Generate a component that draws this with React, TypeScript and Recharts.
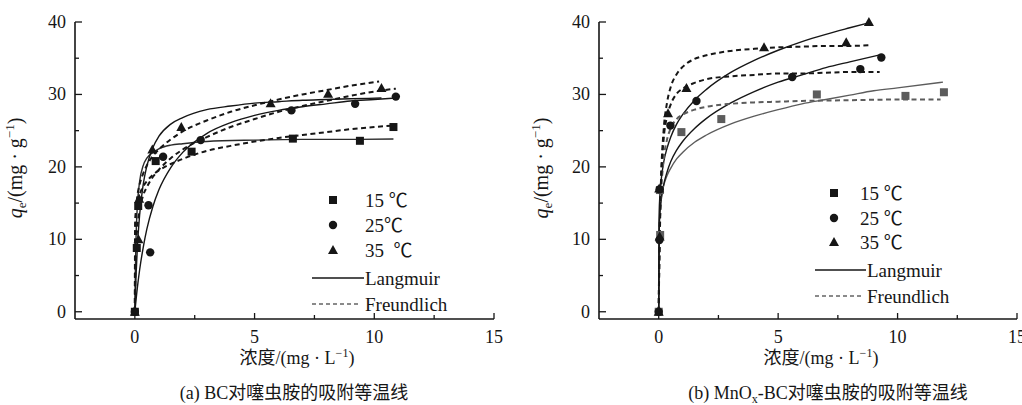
import React from "react";
import { ComposedChart, Line, Scatter, XAxis, YAxis } from "recharts";

// Adsorption isotherms of clothianidin on BC (a) and MnOx-BC (b).
// Points are measured qe vs. concentration, curves are the Langmuir /
// Freundlich fits, values read off the figure.

const FONT = '"Liberation Serif", "Times New Roman", "Noto Sans CJK SC", serif';
const INK = "#161616";
const GREY = "#5c5c5c";

type Pair = [number, number];

// ── (a) BC ────────────────────────────────────────────────────────────────
const bc15: Pair[] = [[0, 0], [0.08, 8.8], [0.14, 14.6], [0.87, 20.8], [2.37, 22.1], [6.6, 23.9], [9.4, 23.6], [10.8, 25.5]];
const bc25: Pair[] = [[0, 0], [0.64, 8.2], [0.57, 14.7], [1.18, 21.4], [2.75, 23.7], [6.54, 27.8], [9.2, 28.7], [10.9, 29.7]];
const bc35: Pair[] = [[0, 0], [0.15, 10.0], [0.18, 15.6], [0.73, 22.4], [1.94, 25.5], [5.67, 28.8], [8.07, 30.1], [10.3, 30.9]];

const bcLang15: Pair[] = [[0, 0], [0.02, 5.5], [0.05, 10.3], [0.1, 14.4], [0.2, 18.0], [0.35, 20.2], [0.5, 21.2], [0.75, 22.0], [1, 22.5], [1.5, 23.0], [2, 23.2], [3, 23.5], [5, 23.7], [7, 23.8], [9, 23.8], [10.8, 23.85]];
const bcLang25: Pair[] = [[0, 0], [0.1, 3.2], [0.2, 5.8], [0.35, 8.9], [0.5, 11.4], [0.75, 14.5], [1, 16.8], [1.5, 19.9], [2, 22.0], [3, 24.6], [4, 26.1], [5, 27.1], [6, 27.8], [7, 28.3], [8, 28.7], [9, 29.1], [10, 29.3], [10.9, 29.5]];
const bcLang35: Pair[] = [[0, 0], [0.05, 5.0], [0.1, 8.6], [0.2, 13.4], [0.35, 17.6], [0.5, 20.1], [0.75, 22.65], [1, 24.2], [1.5, 25.9], [2, 26.8], [3, 27.9], [4, 28.4], [5, 28.8], [6, 29.0], [7, 29.2], [8, 29.3], [9, 29.4], [10.3, 29.5]];
const bcFreu15: Pair[] = [[0, 0], [0.01, 11.4], [0.05, 13.8], [0.1, 14.9], [0.2, 16.2], [0.35, 17.3], [0.5, 18.0], [0.75, 18.9], [1, 19.5], [1.5, 20.4], [2, 21.1], [3, 22.2], [4, 22.9], [5, 23.5], [6, 24.0], [7, 24.4], [8, 24.8], [9, 25.2], [10, 25.5], [10.8, 25.7]];
const bcFreu25: Pair[] = [[0, 0], [0.05, 9.0], [0.1, 11.5], [0.2, 14.0], [0.35, 16.1], [0.5, 17.2], [0.75, 18.6], [1, 19.6], [1.5, 21.2], [2, 22.4], [3, 24.1], [4, 25.5], [5, 26.6], [6, 27.6], [7, 28.4], [8, 29.1], [9, 29.8], [10, 30.4], [10.9, 30.8]];
const bcFreu35: Pair[] = [[0, 0], [0.01, 11.2], [0.05, 14.3], [0.1, 15.9], [0.2, 17.6], [0.35, 19.1], [0.5, 20.2], [0.75, 21.5], [1, 22.4], [1.5, 23.8], [2, 24.9], [3, 26.4], [4, 27.6], [5, 28.5], [6, 29.3], [7, 30.0], [8, 30.6], [9, 31.2], [10.2, 31.8]];

// ── (b) MnOx-BC ───────────────────────────────────────────────────────────
const mn15: Pair[] = [[0, 0], [0.06, 10.6], [0.05, 16.8], [0.95, 24.8], [2.62, 26.6], [6.62, 30.0], [10.33, 29.8], [11.94, 30.3]];
const mn25: Pair[] = [[0, 0], [0.03, 9.9], [0.04, 16.9], [0.49, 25.7], [1.58, 29.1], [5.59, 32.4], [8.44, 33.5], [9.32, 35.1]];
const mn35: Pair[] = [[0, 0], [0.04, 10.4], [0.02, 17.0], [0.39, 27.4], [1.16, 30.9], [4.41, 36.5], [7.85, 37.2], [8.8, 40.0]];

const mnLang15: Pair[] = [[0, 0], [0.02, 12.3], [0.05, 14.1], [0.1, 15.6], [0.2, 17.3], [0.35, 18.8], [0.5, 19.8], [0.75, 21.1], [1, 22], [1.5, 23.4], [2, 24.4], [3, 25.9], [4, 27.0], [5, 27.9], [6, 28.7], [7, 29.3], [8, 29.9], [9, 30.5], [10, 30.9], [11.9, 31.7]];
const mnLang25: Pair[] = [[0, 0], [0.02, 11.4], [0.05, 13.5], [0.1, 15.3], [0.2, 17.4], [0.35, 19.3], [0.5, 20.7], [0.75, 22.3], [1, 23.5], [1.5, 25.3], [2, 26.7], [3, 28.8], [4, 30.4], [5, 31.7], [6, 32.7], [7, 33.7], [8, 34.5], [9.3, 35.5]];
const mnLang35: Pair[] = [[0, 0], [0.02, 13.7], [0.05, 16.1], [0.1, 18.1], [0.2, 20.5], [0.35, 22.6], [0.5, 24.1], [0.75, 25.9], [1, 27.2], [1.5, 29.2], [2, 30.7], [3, 33.0], [4, 34.7], [5, 36.1], [6, 37.3], [7, 38.3], [8, 39.2], [8.8, 39.9]];
const mnFreu15: Pair[] = [[0, 0], [0.02, 5.7], [0.05, 11.1], [0.1, 16.1], [0.2, 20.8], [0.35, 23.8], [0.5, 25.3], [0.75, 26.6], [1, 27.2], [1.5, 27.9], [2, 28.3], [3, 28.7], [4, 28.9], [5, 29.0], [6, 29.1], [8, 29.2], [10, 29.3], [11.8, 29.3]];
const mnFreu25: Pair[] = [[0, 0], [0.02, 6.5], [0.05, 12.5], [0.1, 18.2], [0.2, 23.6], [0.35, 27.0], [0.5, 28.6], [0.75, 30.1], [1, 30.8], [1.5, 31.6], [2, 32.1], [3, 32.5], [4, 32.7], [5, 32.9], [6, 32.9], [7, 33.0], [8, 33.1], [9.25, 33.1]];
const mnFreu35: Pair[] = [[0, 0], [0.02, 6.2], [0.05, 12.4], [0.1, 18.6], [0.2, 24.8], [0.35, 28.9], [0.5, 31.0], [0.75, 32.8], [1, 33.8], [1.5, 34.9], [2, 35.4], [3, 36.0], [4, 36.3], [5, 36.5], [6, 36.6], [7, 36.7], [8, 36.7], [8.83, 36.8]];

const xTicks = [0, 2.5, 5, 7.5, 10, 12.5, 15];
const yTicks = [0, 5, 10, 15, 20, 25, 30, 35, 40];

const toXY = (p: Pair[]) => p.map(([x, y]) => ({ x, y }));

function XTick(props: any) {
  const { x, y, payload } = props;
  const major = payload.value % 5 === 0;
  return (
    <g>
      <line x1={x} x2={x} y1={y} y2={y - (major ? 6 : 4)} stroke={INK} strokeWidth={1.3} />
      {major ? (
        <text x={x} y={y + 24} textAnchor="middle" fontSize={18} fontFamily={FONT} fill={INK}>
          {payload.value}
        </text>
      ) : null}
    </g>
  );
}

function YTick(props: any) {
  const { x, y, payload } = props;
  const major = payload.value % 10 === 0;
  return (
    <g>
      <line x1={x} x2={x + (major ? 7 : 4)} y1={y} y2={y} stroke={INK} strokeWidth={1.3} />
      {major ? (
        <text x={x - 9} y={y + 6} textAnchor="end" fontSize={18} fontFamily={FONT} fill={INK}>
          {payload.value}
        </text>
      ) : null}
    </g>
  );
}

const square = (fill: string) => (p: any) => <rect x={p.cx - 4} y={p.cy - 4} width={8} height={8} fill={fill} />;
const circle = (fill: string) => (p: any) => <circle cx={p.cx} cy={p.cy} r={4.2} fill={fill} />;
const triangle = (fill: string) => (p: any) => (
  <polygon points={`${p.cx},${p.cy - 5} ${p.cx + 5},${p.cy + 4} ${p.cx - 5},${p.cy + 4}`} fill={fill} />
);

type Curve = { data: Pair[]; color: string; dashed?: boolean };

const AXIS_W = 40;
const AXIS_H = 30;

function Panel({
  left,
  width,
  plotLeft,
  marginRight,
  curves,
  points,
}: {
  left: number;
  width: number;
  plotLeft: number;
  marginRight: number;
  curves: Curve[];
  points: { data: Pair[]; shape: (p: any) => React.ReactElement }[];
}) {
  return (
    <div style={{ position: "absolute", left, top: 0 }}>
      <ComposedChart
        width={width}
        height={405}
        margin={{ top: 22, right: marginRight, bottom: 86 - AXIS_H, left: plotLeft - AXIS_W }}
      >
        <XAxis
          type="number"
          dataKey="x"
          domain={[-2.5, 15]}
          ticks={xTicks}
          height={AXIS_H}
          tickSize={0}
          tickMargin={0}
          tickLine={false}
          tick={XTick}
          interval={0}
          axisLine={{ stroke: INK, strokeWidth: 1.6 }}
        />
        <YAxis
          type="number"
          dataKey="y"
          domain={[-1, 40]}
          ticks={yTicks}
          width={AXIS_W}
          tickSize={0}
          tickMargin={0}
          tickLine={false}
          tick={YTick}
          interval={0}
          axisLine={{ stroke: INK, strokeWidth: 1.6 }}
        />
        {curves.map((c, i) => (
          <Line
            key={`c${i}`}
            data={toXY(c.data)}
            dataKey="y"
            type="monotone"
            stroke={c.color}
            strokeWidth={c.dashed ? 2 : 1.4}
            strokeDasharray={c.dashed ? "5 3.5" : undefined}
            dot={false}
            activeDot={false}
            isAnimationActive={false}
          />
        ))}
        {points.map((s, i) => (
          <Scatter key={`s${i}`} data={toXY(s.data)} dataKey="y" shape={s.shape} isAnimationActive={false} />
        ))}
      </ComposedChart>
    </div>
  );
}

function Legend({ x, textX, rows, lineX1, lineX2, spaced }: { x: number; textX: number; rows: number[]; lineX1: number; lineX2: number; spaced: string[] }) {
  const t = { fontSize: 19, fontFamily: FONT, fill: INK } as const;
  return (
    <g>
      <rect x={x - 4} y={rows[0] - 4} width={8} height={8} fill={INK} />
      <text x={textX} y={rows[0] + 7} {...t} style={{ whiteSpace: "pre" }}>{spaced[0]}</text>
      <circle cx={x} cy={rows[1]} r={4.2} fill={INK} />
      <text x={textX} y={rows[1] + 7} {...t} style={{ whiteSpace: "pre" }}>{spaced[1]}</text>
      <polygon points={`${x},${rows[2] - 5} ${x + 5},${rows[2] + 4} ${x - 5},${rows[2] + 4}`} fill={INK} />
      <text x={textX} y={rows[2] + 7} {...t} style={{ whiteSpace: "pre" }}>{spaced[2]}</text>
      <line x1={lineX1} x2={lineX2} y1={rows[3]} y2={rows[3]} stroke={INK} strokeWidth={1.4} />
      <text x={lineX2 + 1} y={rows[3] + 7} {...t}>Langmuir</text>
      <line x1={lineX1} x2={lineX2 - 4} y1={rows[4]} y2={rows[4]} stroke={INK} strokeWidth={1.2} strokeDasharray="4 3" />
      <text x={lineX2 + 1} y={rows[4] + 7} {...t}>Freundlich</text>
    </g>
  );
}

function YTitle({ x, y }: { x: number; y: number }) {
  return (
    <text x={x} y={y} transform={`rotate(-90 ${x} ${y})`} textAnchor="middle" fontSize={20} fontFamily={FONT} fill={INK}>
      <tspan fontStyle="italic">q</tspan>
      <tspan fontSize={13} dy={4}>e</tspan>
      <tspan dy={-4}>/(mg · g</tspan>
      <tspan fontSize={13} dy={-8}>−1</tspan>
      <tspan dy={8}>)</tspan>
    </text>
  );
}

function XTitle({ x, y }: { x: number; y: number }) {
  return (
    <text x={x} y={y} textAnchor="middle" fontSize={18} fontFamily={FONT} fill={INK}>
      浓度/(mg · L
      <tspan fontSize={12} dy={-7}>−1</tspan>
      <tspan dy={7}>)</tspan>
    </text>
  );
}

export default function App() {
  return (
    <div style={{ position: "absolute", left: 0, top: 0, width: 1022, height: 405, background: "#fff", overflow: "hidden" }}>
      <Panel
        left={0}
        width={510}
        plotLeft={75}
        marginRight={16}
        curves={[
          { data: bcLang15, color: "#2a2a2a" },
          { data: bcLang25, color: INK },
          { data: bcLang35, color: INK },
          { data: bcFreu15, color: INK, dashed: true },
          { data: bcFreu25, color: INK, dashed: true },
          { data: bcFreu35, color: INK, dashed: true },
        ]}
        points={[
          { data: bc15, shape: square(INK) },
          { data: bc25, shape: circle(INK) },
          { data: bc35, shape: triangle(INK) },
        ]}
      />
      <Panel
        left={510}
        width={512}
        plotLeft={89}
        marginRight={5}
        curves={[
          { data: mnLang15, color: GREY },
          { data: mnLang25, color: INK },
          { data: mnLang35, color: INK },
          { data: mnFreu15, color: GREY, dashed: true },
          { data: mnFreu25, color: INK, dashed: true },
          { data: mnFreu35, color: INK, dashed: true },
        ]}
        points={[
          { data: mn15, shape: square(GREY) },
          { data: mn25, shape: circle(INK) },
          { data: mn35, shape: triangle(INK) },
        ]}
      />
      <svg width={1022} height={405} style={{ position: "absolute", left: 0, top: 0, pointerEvents: "none" }}>
        <Legend x={333} textX={365} rows={[200, 225, 250, 278, 304]} lineX1={312} lineX2={364} spaced={["15 ℃", "25℃", "35  ℃"]} />
        <Legend x={834} textX={860} rows={[193, 218, 242, 270, 296]} lineX1={815} lineX2={866} spaced={["15 ℃", "25 ℃", "35 ℃"]} />
        <YTitle x={22} y={168} />
        <YTitle x={548} y={168} />
        <XTitle x={297} y={364} />
        <XTitle x={821} y={364} />
        <text x={294} y={399} textAnchor="middle" fontSize={18} fontFamily={FONT} fill={INK}>
          (a) BC对噻虫胺的吸附等温线
        </text>
        <text x={828} y={399} textAnchor="middle" fontSize={18} fontFamily={FONT} fill={INK}>
          (b) MnO<tspan fontSize={12} dy={4}>x</tspan>
          <tspan dy={-4}>-BC对噻虫胺的吸附等温线</tspan>
        </text>
      </svg>
    </div>
  );
}
